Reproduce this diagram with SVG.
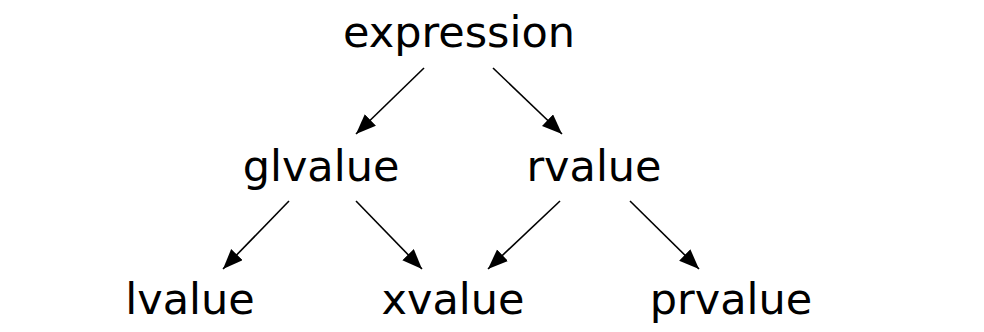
<svg xmlns="http://www.w3.org/2000/svg" width="984" height="332" viewBox="0 0 984 332">
<defs>
<style>
text{font-family:"DejaVu Sans","Liberation Sans",sans-serif;font-size:43px;fill:#000;text-anchor:middle}
.e line{stroke:#000;stroke-width:1.6;fill:none;marker-end:url(#ah)}
</style>
<marker id="ah" markerUnits="userSpaceOnUse" markerWidth="22" markerHeight="18" refX="20" refY="8" orient="auto" viewBox="0 0 22 18">
<path d="M0,0 L20,8 L0,16 z" fill="#000"/>
</marker>
</defs>
<rect width="984" height="332" fill="#fff"/>
<g class="e" id="edges">
<line x1="424" y1="68" x2="356" y2="134"/>
<line x1="493" y1="68" x2="562" y2="134"/>
<line x1="289" y1="201" x2="223" y2="269"/>
<line x1="356" y1="201" x2="422" y2="269"/>
<line x1="560" y1="201" x2="488" y2="269"/>
<line x1="630" y1="201" x2="699" y2="269"/>
</g>
<g id="expression"><text x="459" y="47">expression</text></g>
<g id="glvalue"><text x="321" y="181">glvalue</text></g>
<g id="rvalue"><text x="594" y="181">rvalue</text></g>
<g id="lvalue"><text x="190" y="314">lvalue</text></g>
<g id="xvalue"><text x="453" y="314">xvalue</text></g>
<g id="prvalue"><text x="731" y="314">prvalue</text></g>
</svg>
